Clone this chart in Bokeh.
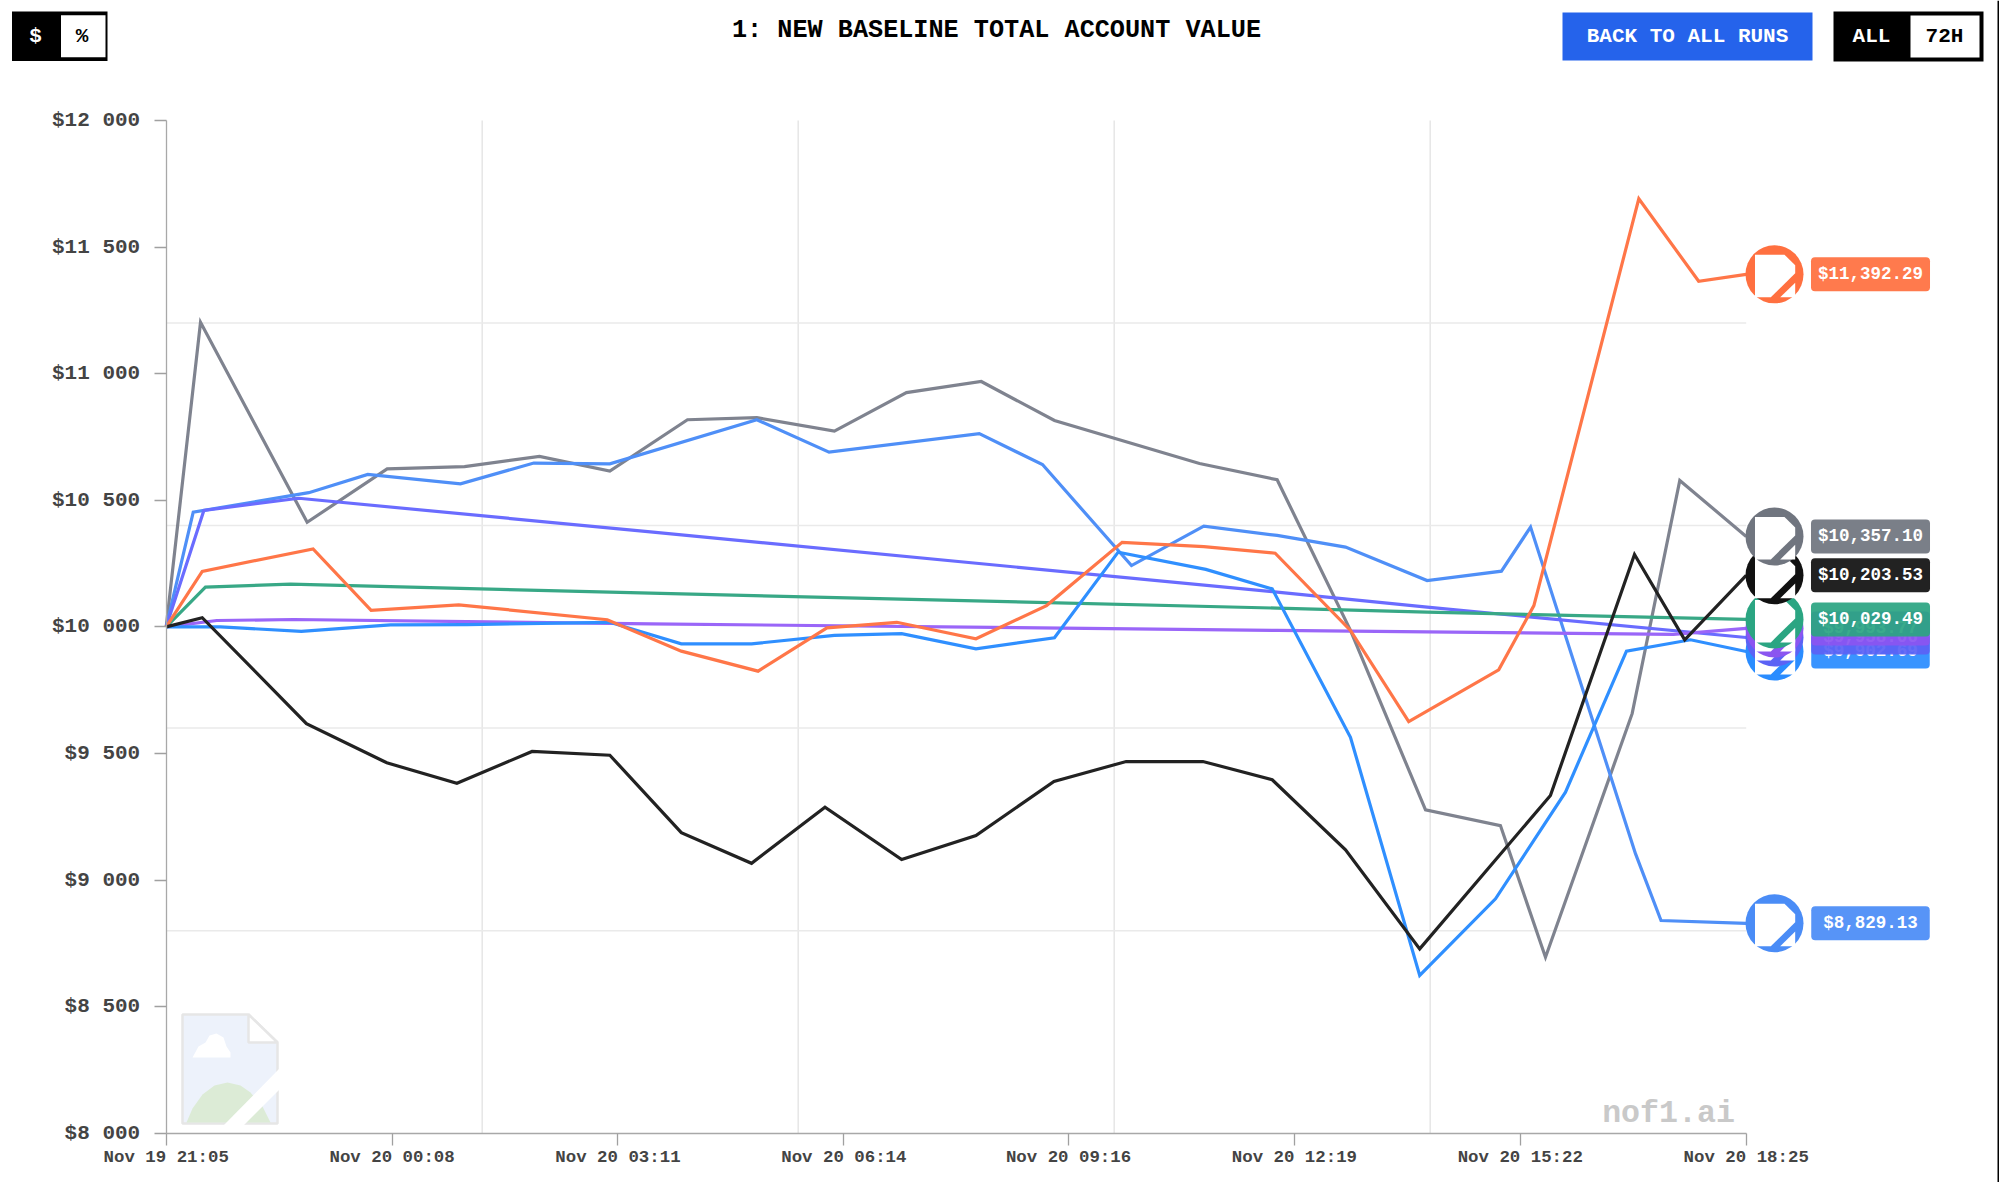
from bokeh.embed import file_html
from bokeh.models import FixedTicker, Label, Range1d
from bokeh.plotting import figure
from bokeh.resources import INLINE

W, H = 1999, 1182

# x = minutes since Nov 19 21:05, y = account value in dollars
x_ticks = [0, 183, 366, 549, 731, 914, 1097, 1280]
x_tick_labels = ["Nov 19 21:05", "Nov 20 00:08", "Nov 20 03:11", "Nov 20 06:14",
                 "Nov 20 09:16", "Nov 20 12:19", "Nov 20 15:22", "Nov 20 18:25"]
y_ticks = [8000, 8500, 9000, 9500, 10000, 10500, 11000, 11500, 12000]
y_tick_labels = ["$8 000", "$8 500", "$9 000", "$9 500", "$10 000", "$10 500",
                 "$11 000", "$11 500", "$12 000"]
x_grid = [256, 512, 768, 1024]
y_grid = [8800, 9600, 10400, 11200]

gray_t = [0, 27.8, 114.2, 179, 241.7, 302.4, 359.4, 422.3, 478.5, 541.3, 599.7, 660.3,
          719.6, 837.1, 900, 959.4, 1020.2, 1080.9, 1117.4, 1187.6, 1226.2, 1280]
gray_v = [10000, 11203, 10413, 10624, 10633, 10673, 10615, 10818, 10826, 10773, 10925, 10969,
          10815, 10645, 10581, 9986, 9277, 9215, 8695, 9657, 10578, 10357.10]

sky_t = [0, 21.9, 115.5, 163.3, 238.4, 297.8, 359.4, 478.5, 537, 658.7, 709.9, 782,
         840.6, 900, 955.4, 1021.5, 1081.7, 1105.3, 1190.3, 1211, 1280]
sky_v = [10000, 10453, 10530, 10602, 10565, 10647, 10644, 10818, 10690, 10763, 10641, 10242,
         10398, 10361, 10315, 10183, 10220, 10394, 9104, 8840, 8829.13]

indigo_t = [0, 30.5, 107.4, 392.3, 900, 1021.5, 1280]
indigo_v = [10000, 10460, 10508, 10375, 10137, 10078, 9958.06]

green_t = [0, 31.8, 100.7, 392.3, 900, 1021.5, 1280]
green_v = [10000, 10157, 10169, 10133, 10074, 10058, 10029.49]

purple_t = [0, 41, 103.4, 392.3, 900, 1221, 1280]
purple_v = [10000, 10025, 10029, 10012, 9986, 9970, 9993.77]

blue_t = [0, 44, 109.4, 181.7, 243.8, 359.4, 417.3, 474.2, 541.3, 595.8, 656, 719.6, 771.2,
          842.2, 896, 959.4, 1015.5, 1076.9, 1133.6, 1183, 1234.9, 1280]
blue_v = [10000, 10000, 9982, 10008, 10009, 10018, 9933, 9933, 9966, 9973, 9913, 9957, 10295,
          10227, 10150, 9564, 8623, 8926, 9347, 9904, 9949, 9902.69]

orange_t = [0, 29.2, 119, 166, 237, 357.3, 417.3, 479.5, 535.3, 591.9, 656, 713.2, 774.4,
            840.6, 898.4, 959.4, 1006.6, 1079.5, 1108, 1193, 1241.5, 1280]
orange_v = [10000, 10219, 10308, 10065, 10087, 10028, 9904, 9825, 9996, 10018, 9953, 10084, 10334,
            10317, 10291, 9986, 9626, 9830, 10084, 11691, 11365, 11392.29]

black_t = [0, 29.2, 113.6, 178.7, 235.5, 296.4, 359.4, 417.3, 474.2, 533.7, 595.8, 656, 719.2,
           777.7, 839.9, 896, 955.4, 1015.5, 1121.4, 1189.5, 1230.2, 1280]
black_v = [10000, 10036, 9618, 9463, 9382, 9508, 9493, 9187, 9066, 9288, 9081, 9176, 9389,
           9468, 9468, 9396, 9119, 8728, 9334, 10286, 9949, 10203.53]

# times, values, line colour, ring/label colour, label text (bottom to top of the stack)
series = [
    (sky_t, sky_v, "#4f8ff7", "#4a8cf6", "$8,829.13"),
    (blue_t, blue_v, "#2f8fff", "#2a8cff", "$9,902.69"),
    (indigo_t, indigo_v, "#6a6cff", "#5b62f5", "$9,958.06"),
    (purple_t, purple_v, "#9a66f8", "#8b55f0", "$9,993.77"),
    (green_t, green_v, "#38a886", "#2ba582", "$10,029.49"),
    (black_t, black_v, "#222222", "#111111", "$10,203.53"),
    (gray_t, gray_v, "#7f838f", "#70757f", "$10,357.10"),
    (orange_t, orange_v, "#ff7648", "#ff7040", "$11,392.29"),
]
line_order = [6, 0, 2, 4, 3, 1, 7, 5]

# where the chart area sits on the page, in page pixels
LEFT, RIGHT, TOP, BOTTOM = 165.7, 1745.7, 120.0, 1132.7
px_per_min = (RIGHT - LEFT) / 1280
px_per_usd = (BOTTOM - TOP) / 4000


def page_y(v):
    return BOTTOM - (v - 8000) * px_per_usd


p = figure(width=W, height=H, output_backend="svg", toolbar_location=None, min_border=0,
           x_range=Range1d(-LEFT / px_per_min, (W - LEFT) / px_per_min),
           y_range=Range1d(8000 - (H - BOTTOM) / px_per_usd, 8000 + BOTTOM / px_per_usd))
p.outline_line_color = None
p.grid.visible = False

# second pair of ranges in page pixels, for the page furniture around the chart
p.extra_x_ranges["px"] = Range1d(0, W)
p.extra_y_ranges["px"] = Range1d(H, 0)
PX = dict(x_range_name="px", y_range_name="px")

MONO = "Liberation Mono"

p.xaxis.fixed_location = 8000
p.xaxis.bounds = (0, 1280)
p.xaxis.ticker = FixedTicker(ticks=x_ticks)
p.xaxis.major_label_overrides = dict(zip(x_ticks, x_tick_labels))
p.xaxis.major_label_standoff = 3
p.yaxis.fixed_location = 0
p.yaxis.bounds = (8000, 12000)
p.yaxis.ticker = FixedTicker(ticks=y_ticks)
p.yaxis.major_label_overrides = dict(zip(y_ticks, y_tick_labels))
p.yaxis.major_label_standoff = 14
for ax in (p.xaxis, p.yaxis):
    ax.minor_tick_line_color = None
    ax.major_tick_in = 0
    ax.major_tick_out = 12
    ax.axis_line_color = "#a8a8a8"
    ax.axis_line_width = 1.3
    ax.major_tick_line_color = "#a0a0a0"
    ax.major_tick_line_width = 1.3
    ax.major_label_text_font = MONO
    ax.major_label_text_font_style = "bold"
    ax.major_label_text_color = "#444444"
p.xaxis.major_label_text_font_size = "17.4px"
p.yaxis.major_label_text_font_size = "21px"

p.segment(x_grid, [8000] * len(x_grid), x_grid, [12000] * len(x_grid), line_color="#e6e6e6", line_width=1.5)
p.segment([0] * len(y_grid), y_grid, [1280] * len(y_grid), y_grid, line_color="#eaeaea", line_width=1.5)

# broken-image placeholder in the corner
p.patch([182, 248, 277, 277, 182], [1014, 1014, 1042, 1123, 1123], fill_color="#edf2fb",
        line_color="#e6e6e6", line_width=2.5, **PX)
p.patch([248, 248, 277], [1014, 1042, 1042], fill_color="#ffffff", line_color="#e6e6e6", line_width=2.5, **PX)
p.patch([192, 198, 205, 209, 216, 223, 226, 230, 230],
        [1057, 1046, 1042, 1035, 1033, 1037, 1046, 1052, 1057], fill_color="#ffffff", line_color=None, **PX)
p.patch([186, 192, 202, 214, 227, 240, 250, 262, 270],
        [1122, 1108, 1094, 1085, 1082, 1085, 1092, 1106, 1122], fill_color="#dcebd6", line_color=None, **PX)
p.patch([279, 223, 243, 279], [1068, 1125, 1125, 1089], fill_color="#ffffff", line_color=None, **PX)

p.add_layout(Label(x=1668, y=1113, text="nof1.ai", text_align="center", text_baseline="middle",
                   text_font=MONO, text_font_style="bold", text_font_size="31.6px",
                   text_color="#c9c9c9", **PX))

for i in line_order:
    t, v, line_color, _, _ = series[i]
    p.line(t, v, line_color=line_color, line_width=3.2, line_join="miter")

# end markers: coloured disc with a white broken-image shape on top, and value tag
CX = 1774
icon_main = [(-19.5, -19.5), (10, -19.5), (20.7, -9), (20.7, -1), (-3.7, 23), (-19.5, 23)]
icon_corner = [(20.7, 8.3), (20.7, 23), (5.7, 23)]
for t, v, _, color, text in series:
    cy = page_y(v[-1])
    p.scatter([CX], [cy], size=58, fill_color=color, line_color=None, **PX)
    for shape in (icon_main, icon_corner):
        p.patch([CX + a for a, b in shape], [cy + b for a, b in shape],
                fill_color="#ffffff", line_color=None, **PX)
    # same tag width for 9 and 10 character values
    pad_x = 7 if len(text) == 10 else 12
    p.add_layout(Label(x=1870, y=v[-1], x_range_name="px", text=text, text_align="center",
                       text_baseline="middle", text_color="#ffffff", text_font=MONO,
                       text_font_style="bold", text_font_size="17.5px",
                       background_fill_color=color, background_fill_alpha=0.93,
                       padding=(pad_x, 7), border_radius=4))

# header controls
p.add_layout(Label(x=996, y=30, text="1: NEW BASELINE TOTAL ACCOUNT VALUE", text_align="center",
                   text_baseline="middle", text_font=MONO, text_font_style="bold",
                   text_font_size="25.2px", text_color="#000000", **PX))
p.quad(left=[11.5], right=[107], top=[11], bottom=[60.5], fill_color="#000000", line_color=None, **PX)
p.quad(left=[60.5], right=[105], top=[14.7], bottom=[56.7], fill_color="#ffffff", line_color=None, **PX)
p.quad(left=[1833], right=[1983], top=[11], bottom=[61], fill_color="#000000", line_color=None, **PX)
p.quad(left=[1910], right=[1979], top=[15], bottom=[57], fill_color="#ffffff", line_color=None, **PX)
p.quad(left=[1562], right=[1812], top=[12], bottom=[60], fill_color="#2563eb", line_color=None, **PX)
p.quad(left=[1997], right=[1999], top=[0], bottom=[1182], fill_color="#000000", line_color=None, **PX)
header_texts = [("$", 35, "#ffffff"), ("%", 81.6, "#000000"), ("BACK TO ALL RUNS", 1687, "#ffffff"),
                ("ALL", 1871, "#ffffff"), ("72H", 1944, "#000000")]
for text, x, color in header_texts:
    p.add_layout(Label(x=x, y=36, text=text, text_align="center", text_baseline="middle",
                       text_font=MONO, text_font_style="bold", text_font_size="21px",
                       text_color=color, **PX))

open("out.html", "w").write(file_html(p, INLINE))
